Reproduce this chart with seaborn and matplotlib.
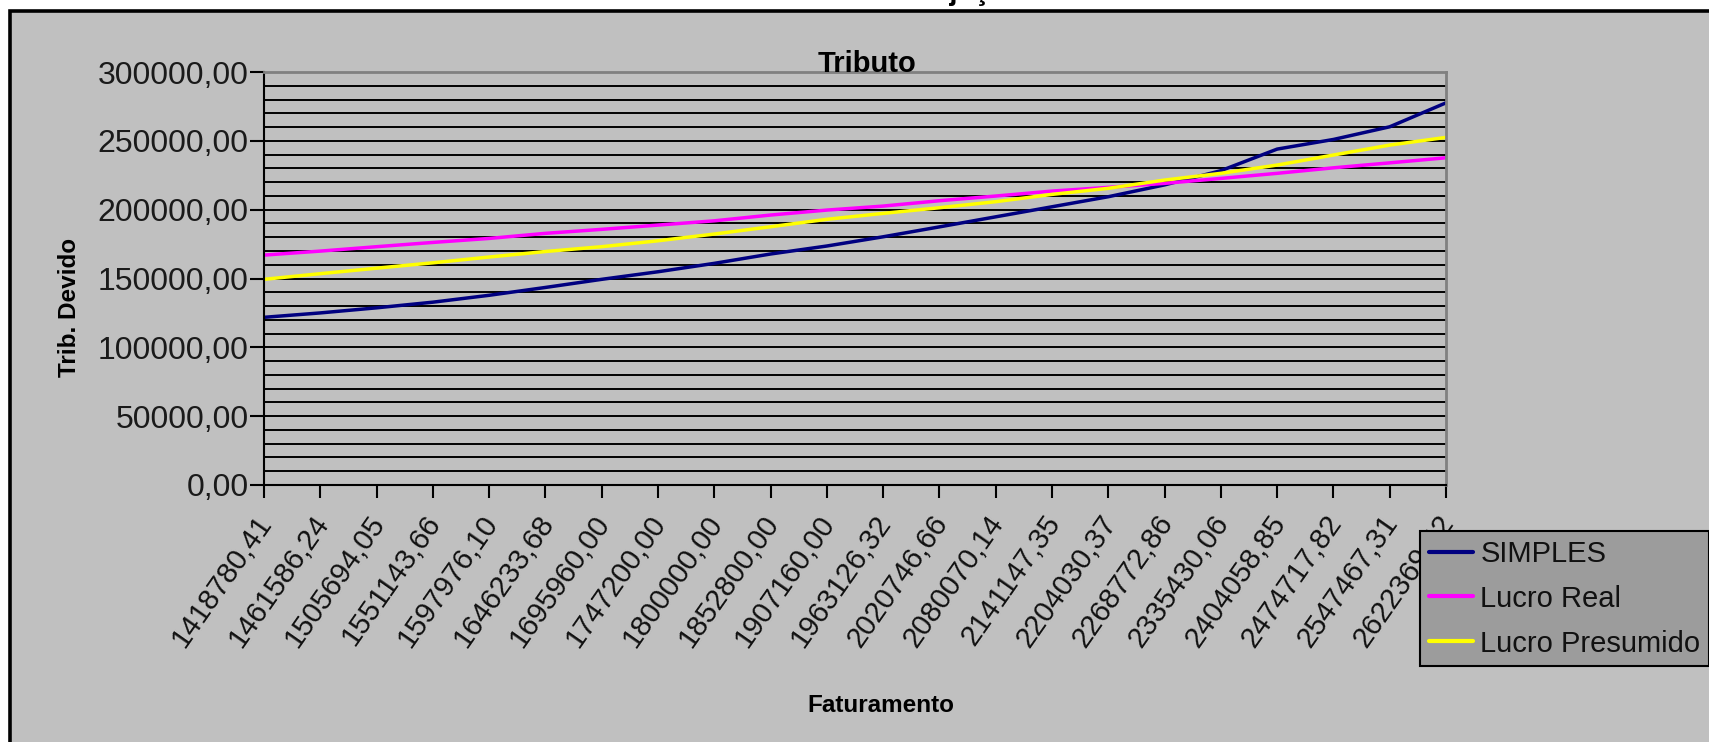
import matplotlib
matplotlib.use("Agg")
import numpy as np
import pandas as pd
import matplotlib.pyplot as plt
import matplotlib.patches as mpatches
import matplotlib.transforms as mtransforms
import seaborn as sns

# ── data ────────────────────────────────────────────────────────────
faturamento = [
    "1418780,41", "1461586,24", "1505694,05", "1551143,66", "1597976,10",
    "1646233,68", "1695960,00", "1747200,00", "1800000,00", "1852800,00",
    "1907160,00", "1963126,32", "2020746,66", "2080070,14", "2141147,35",
    "2204030,37", "2268772,86", "2335430,06", "2404058,85", "2474717,82",
    "2547467,31", "2622369,42",
]
simples = [
    121800, 125000, 128700, 132800, 137800, 143500, 149400, 154900,
    161000, 167800, 173600, 180300, 187500, 194800, 202100, 209400,
    218000, 228300, 244000, 251000, 260200, 277600,
]
lucro_real = [
    167000, 169900, 173100, 176200, 179100, 182800, 185700, 188800,
    191900, 196100, 199700, 202600, 206500, 209900, 213500, 216200,
    219100, 222700, 226400, 230400, 234000, 237700,
]
lucro_presumido = [
    149400, 153500, 157500, 161400, 165600, 169600, 173100, 177400,
    182300, 187600, 193000, 197300, 201400, 205800, 211100, 215500,
    221500, 226400, 232400, 239700, 246900, 252500,
]
series_names = ["SIMPLES", "Lucro Real", "Lucro Presumido"]
series_colors = ["#000080", "#FF00FF", "#FFFF00"]

df = pd.DataFrame({
    "Faturamento": faturamento * 3,
    "Tributo": simples + lucro_real + lucro_presumido,
    "Serie": np.repeat(series_names, len(faturamento)),
})

# ── style ───────────────────────────────────────────────────────────
sns.set_style("white")
plt.rcParams["font.family"] = ["Liberation Sans", "DejaVu Sans"]
BG = "#C0C0C0"
W, H = 1709, 742

fig = plt.figure(figsize=(W / 100, H / 100), dpi=100)
fig.patch.set_facecolor("white")

# chart area (black frame running off the right/bottom edge)
fig.add_artist(mpatches.Rectangle(
    (10 / W, -0.1), 1.2, 1.1 - 11 / H, transform=fig.transFigure,
    facecolor=BG, edgecolor="black", linewidth=2.6, zorder=-10))

ax = fig.add_axes([264 / W, 1 - 485 / H, (1446 - 264) / W, (485 - 72) / H])
ax.set_facecolor(BG)

sns.lineplot(data=df, x="Faturamento", y="Tributo", hue="Serie",
             palette=series_colors, linewidth=2.5, sort=False, ax=ax)

ax.set_xlim(0, len(faturamento) - 1)
ax.set_ylim(0, 300000)

# gridlines every 10000, labels every 50000
ax.set_yticks(np.arange(0, 300001, 50000))
ax.set_yticks(np.arange(0, 300001, 10000), minor=True)
ax.set_yticklabels([f"{int(v)},00" for v in np.arange(0, 300001, 50000)])
ax.grid(which="both", axis="y", color="black", linewidth=1.4)
ax.grid(axis="x", visible=False)
ax.set_axisbelow(True)

for side in ("left", "bottom"):
    ax.spines[side].set_color("black")
    ax.spines[side].set_linewidth(1.5)
for side in ("top", "right"):
    ax.spines[side].set_color("#808080")
    ax.spines[side].set_linewidth(2)

ax.tick_params(axis="y", which="major", direction="out", length=10, width=1.5,
               color="black", labelsize=23, labelcolor="#1a1a1a", pad=1, left=True)
ax.tick_params(axis="y", which="minor", length=0)
ax.tick_params(axis="x", direction="out", length=9, width=1.5, color="black",
               labelsize=21, labelcolor="#111111", pad=9, bottom=True)

shift = mtransforms.ScaledTranslation(-9 / 100, 0, fig.dpi_scale_trans)
for lbl in ax.get_xticklabels():
    lbl.set_rotation(55)
    lbl.set_ha("right")
    lbl.set_va("top")
    lbl.set_rotation_mode("anchor")
    lbl.set_transform(lbl.get_transform() + shift)
    lbl.set_zorder(-1)

ax.set_xlabel("")
ax.set_ylabel("")

# titles and axis labels
fig.text(962 / W, 1.0, "Projeção", ha="center", va="baseline",
         fontsize=21, fontweight="bold", color="black")
fig.text(867 / W, 1 - 72 / H, "Tributo", ha="center", va="baseline",
         fontsize=21, fontweight="bold", color="black")
fig.text(69 / W, 1 - 307 / H, "Trib. Devido", ha="center", va="center",
         rotation=90, fontsize=17.5, fontweight="bold", color="black")
fig.text(881 / W, 1 - 706 / H, "Faturamento", ha="center", va="center",
         fontsize=17.5, fontweight="bold", color="black")

# legend (covers the end of the last tick label, as in the reference)
handles, labels = ax.get_legend_handles_labels()
ax.get_legend().remove()
for h in handles:
    h.set_linewidth(3)
leg = fig.legend(handles, labels, loc="upper left",
                 bbox_to_anchor=(1420 / W, 1 - 531 / H), frameon=True,
                 fancybox=False, facecolor="#9C9C9C", edgecolor="black",
                 framealpha=1, fontsize=21, handlelength=1.5,
                 handletextpad=0.27, labelspacing=0.58, borderpad=0.3,
                 borderaxespad=0)
leg.get_frame().set_linewidth(1.5)
leg.set_zorder(10)
for t in leg.get_texts():
    t.set_color("#111111")

fig.savefig("out.png", dpi=100, facecolor=fig.get_facecolor())
plt.close(fig)
